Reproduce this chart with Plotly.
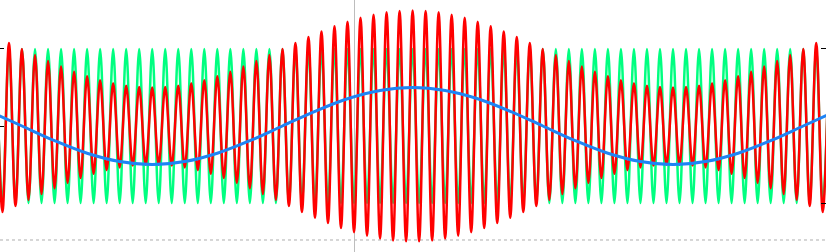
import numpy as np
import plotly.graph_objects as go

# Carrier extrema times (in carrier cycles, zero at the vertical reference line)
T_EXTREMA = np.arange(-27.5, 36.51, 0.5)

# Unmodulated carrier: value at each extremum
CARRIER = [
    1, -1, 1, -1, 1, -1, 1, -1, 1, -1, 1, -1, 1, -1, 1, -1,
    1, -1, 1, -1, 1, -1, 1, -1, 1, -1, 1, -1, 1, -1, 1, -1,
    1, -1, 1, -1, 1, -1, 1, -1, 1, -1, 1, -1, 1, -1, 1, -1,
    1, -1, 1, -1, 1, -1, 1, -1, 1, -1, 1, -1, 1, -1, 1, -1,
    1, -1, 1, -1, 1, -1, 1, -1, 1, -1, 1, -1, 1, -1, 1, -1,
    1, -1, 1, -1, 1, -1, 1, -1, 1, -1, 1, -1, 1, -1, 1, -1,
    1, -1, 1, -1, 1, -1, 1, -1, 1, -1, 1, -1, 1, -1, 1, -1,
    1, -1, 1, -1, 1, -1, 1, -1, 1, -1, 1, -1, 1, -1, 1, -1,
    1,
]

# AM signal: value at each carrier extremum
AM_SIGNAL = [
    1.155, -1.117, 1.078, -1.039, 1.000, -0.961, 0.922, -0.883, 0.845, -0.809,
    0.773, -0.739, 0.706, -0.675, 0.646, -0.620, 0.595, -0.574, 0.554, -0.538,
    0.524, -0.514, 0.506, -0.502, 0.500,
    -0.502, 0.506, -0.514, 0.524, -0.538, 0.554, -0.574, 0.595, -0.620, 0.646,
    -0.675, 0.706, -0.739, 0.773, -0.809, 0.845, -0.883, 0.922, -0.961, 1.000,
    -1.039, 1.078, -1.117, 1.155, -1.191, 1.227, -1.261, 1.294, -1.325, 1.354,
    -1.380, 1.405, -1.426, 1.446, -1.462, 1.476, -1.486, 1.494, -1.498, 1.500,
    -1.498, 1.494, -1.486, 1.476, -1.462, 1.446, -1.426, 1.405, -1.380, 1.354,
    -1.325, 1.294, -1.261, 1.227, -1.191, 1.155, -1.117, 1.078, -1.039, 1.000,
    -0.961, 0.922, -0.883, 0.845, -0.809, 0.773, -0.739, 0.706, -0.675, 0.646,
    -0.620, 0.595, -0.574, 0.554, -0.538, 0.524, -0.514, 0.506, -0.502, 0.500,
    -0.502, 0.506, -0.514, 0.524, -0.538, 0.554, -0.574, 0.595, -0.620, 0.646,
    -0.675, 0.706, -0.739, 0.773, -0.809, 0.845, -0.883, 0.922, -0.961, 1.000,
    -1.039, 1.078, -1.117, 1.155,
]

# Modulating signal samples
T_MOD = [-28, -25.5, -23, -20.5, -18, -15.5, -13, -10.5, -8, -5.5, -3, -0.5, 2,
         4.5, 7, 9.5, 12, 14.5, 17, 19.5, 22, 24.5, 27, 29.5, 32, 34.5, 37]
MODULATOR = [0.191, 0.0, -0.191, -0.354, -0.462, -0.5, -0.462, -0.354, -0.191,
             0.0, 0.191, 0.354, 0.462, 0.5, 0.462, 0.354, 0.191, 0.0, -0.191,
             -0.354, -0.462, -0.5, -0.462, -0.354, -0.191, 0.0, 0.191]

X_RANGE = [-27.19, 36.25]
Y_RANGE = [-1.636, 1.636]

fig = go.Figure()
fig.add_trace(go.Scatter(x=T_EXTREMA, y=CARRIER, mode="lines",
                         line=dict(color="#00FF80", width=2.5, shape="spline", smoothing=1),
                         name="Carrier", showlegend=False))
fig.add_trace(go.Scatter(x=T_EXTREMA, y=AM_SIGNAL, mode="lines",
                         line=dict(color="#FF0000", width=2.5, shape="spline", smoothing=1),
                         name="AM", showlegend=False))
fig.add_trace(go.Scatter(x=T_MOD, y=MODULATOR, mode="lines", yaxis="y2",
                         line=dict(color="#1E84F5", width=3, shape="spline", smoothing=1),
                         name="Modulator", showlegend=False))

fig.add_shape(type="line", xref="paper", x0=0, x1=1, yref="y", y0=-1.48, y1=-1.48,
              line=dict(color="#ADADAD", width=1, dash="3px,3px"), layer="below")

fig.update_layout(
    width=826, height=252, autosize=False,
    margin=dict(l=0, r=0, t=0, b=0, pad=0),
    paper_bgcolor="white", plot_bgcolor="white",
    showlegend=False,
    xaxis=dict(range=X_RANGE, showgrid=False, showticklabels=False, ticks="",
               zeroline=True, zerolinecolor="#BDBDBD", zerolinewidth=1, showline=False),
    yaxis=dict(range=Y_RANGE, showgrid=False, showticklabels=False, zeroline=False,
               ticks="inside", ticklen=4, tickwidth=1, tickcolor="black",
               tickmode="array", tickvals=[1, 0], showline=False),
    yaxis2=dict(range=Y_RANGE, overlaying="y", side="right", showgrid=False,
                showticklabels=False, zeroline=False, ticks="inside", ticklen=5,
                tickwidth=1, tickcolor="black", tickmode="array", tickvals=[1, -1],
                showline=False),
)

fig.write_html("out.html")
